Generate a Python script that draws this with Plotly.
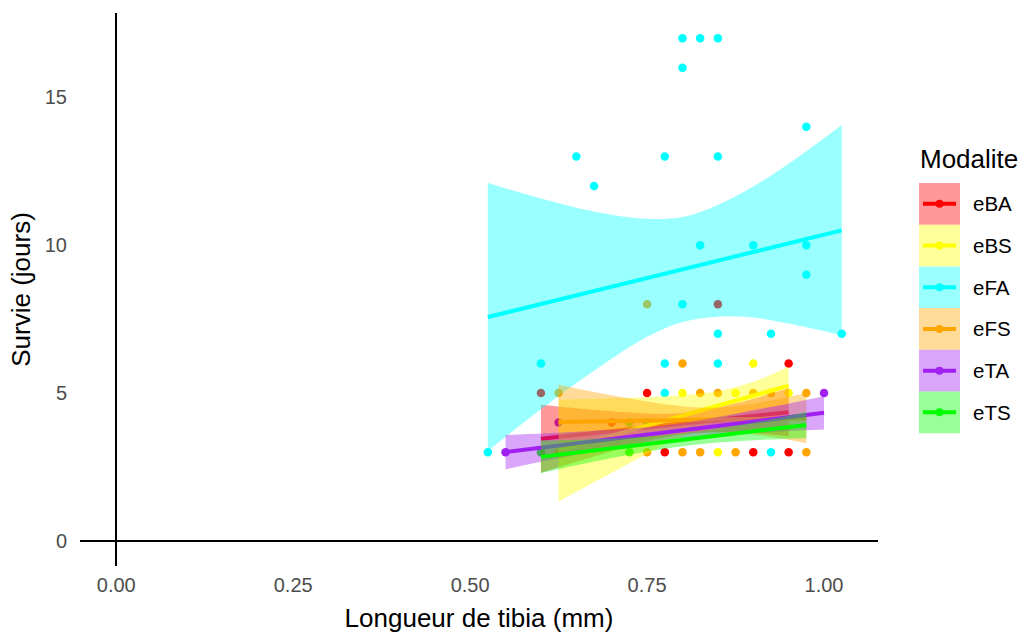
import plotly.graph_objects as go

# ---------------- data ----------------
groups = ["eBA", "eBS", "eFA", "eFS", "eTA", "eTS"]
colors = {"eBA": "#FF0000", "eBS": "#FFFF00", "eFA": "#00FFFF",
          "eFS": "#FFA500", "eTA": "#A020F0", "eTS": "#00FF00"}
band_colors = {"eBA": "rgba(255,0,0,0.4)", "eBS": "rgba(255,255,0,0.4)",
               "eFA": "rgba(0,255,255,0.4)", "eFS": "rgba(255,165,0,0.4)",
               "eTA": "rgba(160,32,240,0.4)", "eTS": "rgba(0,255,0,0.4)"}

# observed points (tibia length mm, survival days)
pts_x = {
    "eBA": [0.60, 0.75, 0.85, 0.95, 0.70, 0.775, 0.90, 0.95],
    "eBS": [0.80, 0.875, 0.95, 0.90, 0.85, 0.625],
    "eFA": [0.525, 0.60, 0.65, 0.675, 0.775, 0.775, 0.775, 0.80, 0.80, 0.80,
            0.825, 0.825, 0.85, 0.85, 0.85, 0.85, 0.90, 0.925, 0.925, 0.975,
            0.975, 0.975, 1.025],
    "eFS": [0.75, 0.625, 0.80, 0.825, 0.85, 0.90, 0.925, 0.975, 0.75, 0.80,
            0.825, 0.875, 0.975],
    "eTA": [0.55, 0.625, 1.00],
    "eTS": [0.60, 0.725, 0.75, 0.725],
}
pts_y = {
    "eBA": [5, 5, 8, 6, 4, 3, 3, 3],
    "eBS": [5, 5, 5, 6, 3, 3],
    "eFA": [3, 6, 13, 12, 13, 6, 5, 17, 16, 8,
            17, 10, 17, 13, 7, 6, 10, 7, 3, 14,
            10, 9, 7],
    "eFS": [8, 5, 6, 5, 5, 5, 5, 5, 3, 3,
            3, 3, 3],
    "eTA": [3, 4, 5],
    "eTS": [3, 4, 4, 3],
}

# fitted lines (start/end)
fit_x = {"eBA": [0.60, 0.95], "eBS": [0.625, 0.95], "eFA": [0.525, 1.025],
         "eFS": [0.625, 0.975], "eTA": [0.55, 1.00], "eTS": [0.60, 0.975]}
fit_y = {"eBA": [3.45, 4.35], "eBS": [3.05, 5.25], "eFA": [7.57, 10.5],
         "eFS": [4.02, 4.15], "eTA": [3.00, 4.33], "eTS": [2.84, 3.92]}

# confidence bands
band_x = {
    "eBA": [0.60, 0.675, 0.75, 0.80, 0.875, 0.95],
    "eBS": [0.625, 0.70, 0.775, 0.85, 0.90, 0.95],
    "eFA": [0.525, 0.60, 0.675, 0.75, 0.80, 0.85, 0.90, 0.95, 1.025],
    "eFS": [0.625, 0.70, 0.775, 0.84, 0.90, 0.975],
    "eTA": [0.55, 0.65, 0.775, 0.90, 1.00],
    "eTS": [0.60, 0.70, 0.80, 0.90, 0.975],
}
band_hi = {
    "eBA": [4.60, 4.43, 4.31, 4.32, 4.65, 5.16],
    "eBS": [4.77, 4.82, 4.89, 5.06, 5.38, 5.89],
    "eFA": [12.10, 11.58, 11.14, 10.89, 10.95, 11.36, 11.98, 12.75, 14.06],
    "eFS": [5.28, 4.92, 4.62, 4.50, 4.64, 5.00],
    "eTA": [3.58, 3.69, 3.91, 4.41, 4.89],
    "eTS": [3.39, 3.46, 3.64, 4.00, 4.37],
}
band_lo = {
    "eBA": [2.30, 2.85, 3.37, 3.60, 3.67, 3.54],
    "eBS": [1.33, 2.30, 3.25, 4.08, 4.44, 4.61],
    "eFA": [3.04, 4.45, 5.75, 6.90, 7.40, 7.58, 7.55, 7.35, 6.95],
    "eFS": [2.76, 3.17, 3.54, 3.70, 3.60, 3.30],
    "eTA": [2.42, 2.91, 3.41, 3.65, 3.77],
    "eTS": [2.29, 2.80, 3.20, 3.40, 3.47],
}

x_ticks = [0.0, 0.25, 0.50, 0.75, 1.00]
x_ticklabels = ["0.00", "0.25", "0.50", "0.75", "1.00"]
y_ticks = [0, 5, 10, 15]
y_ticklabels = ["0", "5", "10", "15"]

# ---------------- figure ----------------
FONT = "Liberation Sans, Arial, sans-serif"
fig = go.Figure()

for g in groups:
    fig.add_trace(go.Scatter(x=pts_x[g], y=pts_y[g], mode="markers",
                             marker=dict(color=colors[g], size=8.5, line=dict(width=0)),
                             showlegend=False, hoverinfo="x+y", name=g))

for g in groups:
    fig.add_trace(go.Scatter(x=band_x[g], y=band_lo[g], mode="lines",
                             line=dict(width=0, shape="spline"),
                             showlegend=False, hoverinfo="skip"))
    fig.add_trace(go.Scatter(x=band_x[g], y=band_hi[g], mode="lines",
                             line=dict(width=0, shape="spline"),
                             fill="tonexty", fillcolor=band_colors[g],
                             showlegend=False, hoverinfo="skip"))
    fig.add_trace(go.Scatter(x=fit_x[g], y=fit_y[g], mode="lines",
                             line=dict(color=colors[g], width=4),
                             showlegend=False, name=g))

W, H = 1021, 637
# plot area in pixels: x 80..878, y 13..566
L, R, T, B = 80, 878, 13, 566
def px(xp):
    return (xp - L) / (R - L)
def py(yp):
    return (B - yp) / (B - T)

shapes = []
annotations = []
annotations.append(dict(text="Modalite", x=px(918), y=py(159), xref="paper", yref="paper",
                        xanchor="left", yanchor="middle", showarrow=False,
                        font=dict(family=FONT, size=26, color="#000000")))
row_top = 183
row_h = 41.7
for i, g in enumerate(groups):
    t = row_top + i * row_h
    b = t + row_h
    c = (t + b) / 2
    shapes.append(dict(type="rect", xref="paper", yref="paper",
                       x0=px(919), x1=px(960), y0=py(b), y1=py(t),
                       fillcolor=band_colors[g], line=dict(width=0), layer="above"))
    shapes.append(dict(type="line", xref="paper", yref="paper",
                       x0=px(923), x1=px(956), y0=py(c), y1=py(c),
                       line=dict(color=colors[g], width=4), layer="above"))
    shapes.append(dict(type="circle", xref="paper", yref="paper",
                       x0=px(935.5), x1=px(943.5), y0=py(c + 4), y1=py(c - 4),
                       fillcolor=colors[g], line=dict(width=0), layer="above"))
    annotations.append(dict(text=g, x=px(971), y=py(c), xref="paper", yref="paper",
                            xanchor="left", yanchor="middle", showarrow=False,
                            font=dict(family=FONT, size=20.5, color="#000000")))

fig.update_layout(
    width=W, height=H,
    margin=dict(l=L, r=W - R, t=T, b=H - B, autoexpand=False),
    paper_bgcolor="white", plot_bgcolor="white",
    font=dict(family=FONT),
    shapes=shapes, annotations=annotations,
    showlegend=False,
    xaxis=dict(range=[-0.05125, 1.07625], tickvals=x_ticks, ticktext=x_ticklabels,
               showgrid=False, zeroline=True, zerolinecolor="#000000", zerolinewidth=2,
               showline=False, ticks="", ticklabelstandoff=5,
               tickfont=dict(family=FONT, size=20, color="#4D4D4D"),
               title=dict(text="Longueur de tibia (mm)", font=dict(family=FONT, size=26, color="#000000"),
                          standoff=13)),
    yaxis=dict(range=[-0.85, 17.85], tickvals=y_ticks, ticktext=y_ticklabels,
               showgrid=False, zeroline=True, zerolinecolor="#000000", zerolinewidth=2,
               showline=False, ticks="", ticklabelstandoff=12,
               tickfont=dict(family=FONT, size=20, color="#4D4D4D"),
               title=dict(text="Survie (jours)", font=dict(family=FONT, size=26, color="#000000"),
                          standoff=6)),
)

fig.write_html("out.html", config={"displayModeBar": False},
               post_script="document.body.style.margin='0';document.body.style.overflow='hidden';")
